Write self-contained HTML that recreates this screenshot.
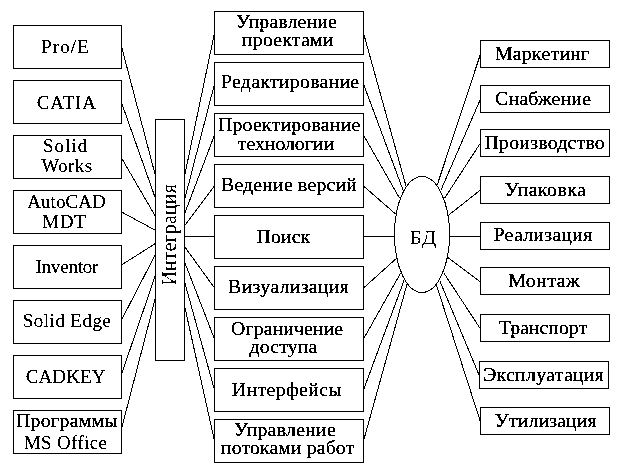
<!DOCTYPE html>
<html lang="ru"><head><meta charset="utf-8"><title>Diagram</title>
<style>
html,body{margin:0;padding:0;background:#fff;}
body{width:624px;height:475px;overflow:hidden;font-family:"Liberation Serif",serif;}
svg{display:block;}
</style></head><body>
<svg width="624" height="475" viewBox="0 0 624 475">
<rect x="0" y="0" width="624" height="475" fill="#fff"/>
<g id="shapes" fill="#fff" stroke="#000" stroke-width="1" shape-rendering="crispEdges">
<line x1="121.5" y1="46.5" x2="155.5" y2="176"/>
<line x1="121.5" y1="102.6" x2="155.5" y2="198.6"/>
<line x1="121.5" y1="158" x2="155.5" y2="216.5"/>
<line x1="121.5" y1="212" x2="155.5" y2="230.3"/>
<line x1="121.5" y1="265" x2="155.5" y2="243.4"/>
<line x1="121.5" y1="320" x2="155.5" y2="254.3"/>
<line x1="121.5" y1="374.3" x2="155.5" y2="275"/>
<line x1="121.5" y1="428.8" x2="155.5" y2="297.6"/>
<line x1="184.5" y1="176.3" x2="214.5" y2="33.0"/>
<line x1="363.5" y1="33.0" x2="406" y2="186"/>
<line x1="184.5" y1="200" x2="214.5" y2="84.0"/>
<line x1="363.5" y1="84.0" x2="403.3" y2="190.8"/>
<line x1="184.5" y1="214" x2="214.5" y2="135.0"/>
<line x1="363.5" y1="135.0" x2="399.4" y2="198"/>
<line x1="184.5" y1="226" x2="214.5" y2="186.0"/>
<line x1="363.5" y1="186.0" x2="395.6" y2="214"/>
<line x1="184.5" y1="236.5" x2="214.5" y2="237.0"/>
<line x1="363.5" y1="237.0" x2="394" y2="236.5"/>
<line x1="184.5" y1="246.5" x2="214.5" y2="288.0"/>
<line x1="363.5" y1="288.0" x2="396.4" y2="258.4"/>
<line x1="184.5" y1="261.7" x2="214.5" y2="339.0"/>
<line x1="363.5" y1="339.0" x2="400.4" y2="273.4"/>
<line x1="184.5" y1="281.5" x2="214.5" y2="390.0"/>
<line x1="363.5" y1="390.0" x2="404" y2="280.6"/>
<line x1="184.5" y1="305.6" x2="214.5" y2="441.0"/>
<line x1="363.5" y1="441.0" x2="407" y2="284.3"/>
<line x1="437.3" y1="184.8" x2="480.5" y2="54.0"/>
<line x1="440.9" y1="190.2" x2="480.5" y2="99.0"/>
<line x1="444.7" y1="198" x2="480.5" y2="143.0"/>
<line x1="448.1" y1="215.5" x2="480.5" y2="190.0"/>
<line x1="449.5" y1="236.5" x2="480.5" y2="236.0"/>
<line x1="447.7" y1="257.5" x2="480.5" y2="282.0"/>
<line x1="443.7" y1="272.8" x2="480.5" y2="329.0"/>
<line x1="439.7" y1="280.6" x2="479.5" y2="376.0"/>
<line x1="436.4" y1="284.9" x2="480.5" y2="422.0"/>
<rect x="13.5" y="25.5" width="108" height="43"/>
<rect x="13.5" y="80.5" width="108" height="43"/>
<rect x="13.5" y="135.5" width="108" height="43"/>
<rect x="13.5" y="190.5" width="108" height="43"/>
<rect x="13.5" y="245.5" width="108" height="43"/>
<rect x="13.5" y="300.5" width="108" height="43"/>
<rect x="13.5" y="355.5" width="108" height="43"/>
<rect x="13.5" y="410.5" width="108" height="43"/>
<rect x="214.5" y="11.5" width="149" height="43"/>
<rect x="214.5" y="62.5" width="149" height="43"/>
<rect x="214.5" y="113.5" width="149" height="43"/>
<rect x="214.5" y="164.5" width="149" height="43"/>
<rect x="214.5" y="215.5" width="149" height="43"/>
<rect x="214.5" y="266.5" width="149" height="43"/>
<rect x="214.5" y="317.5" width="149" height="43"/>
<rect x="214.5" y="368.5" width="149" height="43"/>
<rect x="214.5" y="419.5" width="149" height="43"/>
<rect x="480.5" y="40.5" width="129" height="27"/>
<rect x="480.5" y="85.5" width="129" height="27"/>
<rect x="480.5" y="129.5" width="129" height="27"/>
<rect x="480.5" y="176.5" width="129" height="27"/>
<rect x="480.5" y="222.5" width="129" height="27"/>
<rect x="480.5" y="267.5" width="129" height="27"/>
<rect x="480.5" y="314.5" width="129" height="27"/>
<rect x="479.5" y="361.5" width="129" height="27"/>
<rect x="480.5" y="407.5" width="129" height="27"/>
<rect x="155.5" y="119.5" width="29" height="241"/>
<ellipse cx="422" cy="234.5" rx="27.5" ry="58"/>
</g>
<defs><filter id="bw2" x="-5%" y="-5%" width="110%" height="110%" color-interpolation-filters="sRGB"><feComponentTransfer><feFuncA type="discrete" tableValues="0 1"/></feComponentTransfer></filter></defs>
<defs><filter id="bw3" x="-5%" y="-5%" width="110%" height="110%" color-interpolation-filters="sRGB"><feComponentTransfer><feFuncA type="discrete" tableValues="0 0 1 1 1 1 1"/></feComponentTransfer></filter></defs>
<defs><filter id="bw4" x="-5%" y="-5%" width="110%" height="110%" color-interpolation-filters="sRGB"><feComponentTransfer><feFuncA type="discrete" tableValues="0 0 0 1 1"/></feComponentTransfer></filter></defs>
<defs><filter id="bw" x="-5%" y="-5%" width="110%" height="110%" color-interpolation-filters="sRGB"><feComponentTransfer><feFuncA type="discrete" tableValues="0 0 1 1 1"/></feComponentTransfer></filter></defs>
<g id="labels" font-family="'Liberation Serif', serif" font-size="19px" fill="#000">
<text x="41.00" y="53" letter-spacing="1.125" filter="url(#bw)">Pro/E</text>
<text x="36.80" y="108.7" letter-spacing="0.788" filter="url(#bw)">CATIA</text>
<text x="43.00" y="152.3" letter-spacing="1.012" filter="url(#bw)">Solid</text>
<text x="41.20" y="172.3" letter-spacing="0.450" filter="url(#bw)">Works</text>
<text x="27.20" y="207.7" letter-spacing="0.075" filter="url(#bw)">AutoCAD</text>
<text x="42.20" y="227.7" letter-spacing="0.675" filter="url(#bw)">MDT</text>
<text x="35.40" y="272.5" letter-spacing="-0.193" filter="url(#bw)">Inventor</text>
<text x="22.80" y="327.3" letter-spacing="0.450" filter="url(#bw)">Solid Edge</text>
<text x="25.80" y="382.7" letter-spacing="0.090" filter="url(#bw)">CADKEY</text>
<text transform="translate(16.00,426.9) scale(1.04,1)" letter-spacing="0.325" filter="url(#bw3)">Программы</text>
<text x="23.80" y="448.7" letter-spacing="0.337" filter="url(#bw)">MS Office</text>
<text transform="translate(236.00,27.8) scale(1.04,1)" letter-spacing="0.192" filter="url(#bw3)">Управление</text>
<text transform="translate(242.00,46) scale(1.04,1)" letter-spacing="0.216" filter="url(#bw3)">проектами</text>
<text transform="translate(221.00,88.4) scale(1.04,1)" letter-spacing="0.300" filter="url(#bw3)">Редактирование</text>
<text transform="translate(218.00,131) scale(1.04,1)" letter-spacing="0.233" filter="url(#bw3)">Проектирование</text>
<text transform="translate(237.80,150) scale(1.04,1)" letter-spacing="-0.000" filter="url(#bw3)">технологии</text>
<text transform="translate(221.00,190.9) scale(1.04,1)" letter-spacing="0.200" filter="url(#bw3)">Ведение версий</text>
<text transform="translate(256.60,243.1) scale(1.04,1)" letter-spacing="0.108" filter="url(#bw3)">Поиск</text>
<text transform="translate(228.00,293.1) scale(1.04,1)" letter-spacing="0.354" filter="url(#bw3)">Визуализация</text>
<text transform="translate(231.00,334.5) scale(1.04,1)" letter-spacing="0.130" filter="url(#bw3)">Ограничение</text>
<text transform="translate(249.60,353) scale(1.04,1)" letter-spacing="0.144" filter="url(#bw3)">доступа</text>
<text transform="translate(231.80,395.6) scale(1.04,1)" letter-spacing="0.385" filter="url(#bw3)">Интерфейсы</text>
<text transform="translate(234.00,436.1) scale(1.04,1)" letter-spacing="0.288" filter="url(#bw3)">Управление</text>
<text transform="translate(221.00,454.1) scale(1.04,1)" letter-spacing="0.133" filter="url(#bw3)">потоками работ</text>
<text transform="translate(495.00,60.1) scale(1.04,1)" letter-spacing="0.270" filter="url(#bw3)">Маркетинг</text>
<text transform="translate(495.00,105.2) scale(1.04,1)" letter-spacing="0.216" filter="url(#bw3)">Снабжение</text>
<text transform="translate(484.60,149.4) scale(1.04,1)" letter-spacing="0.236" filter="url(#bw3)">Производство</text>
<text transform="translate(504.80,195.9) scale(1.04,1)" letter-spacing="0.495" filter="url(#bw3)">Упаковка</text>
<text transform="translate(493.60,240.9) scale(1.04,1)" letter-spacing="0.288" filter="url(#bw3)">Реализация</text>
<text transform="translate(508.20,286.8) scale(1.04,1)" letter-spacing="0.519" filter="url(#bw3)">Монтаж</text>
<text transform="translate(498.80,334.1) scale(1.04,1)" letter-spacing="0.054" filter="url(#bw3)">Транспорт</text>
<text transform="translate(483.20,380.9) scale(1.04,1)" letter-spacing="0.315" filter="url(#bw3)">Эксплуатация</text>
<text transform="translate(494.80,427.05) scale(1.04,1)" letter-spacing="0.144" filter="url(#bw3)">Утилизация</text>
<text transform="translate(409.40,244.3) scale(1.1280,1)" letter-spacing="0.8" filter="url(#bw4)">БД</text>
<text transform="translate(176,285.60) rotate(-90)" font-size="20px" letter-spacing="0.100" filter="url(#bw2)">Интеграция</text>
</g>
</svg>
</body></html>
